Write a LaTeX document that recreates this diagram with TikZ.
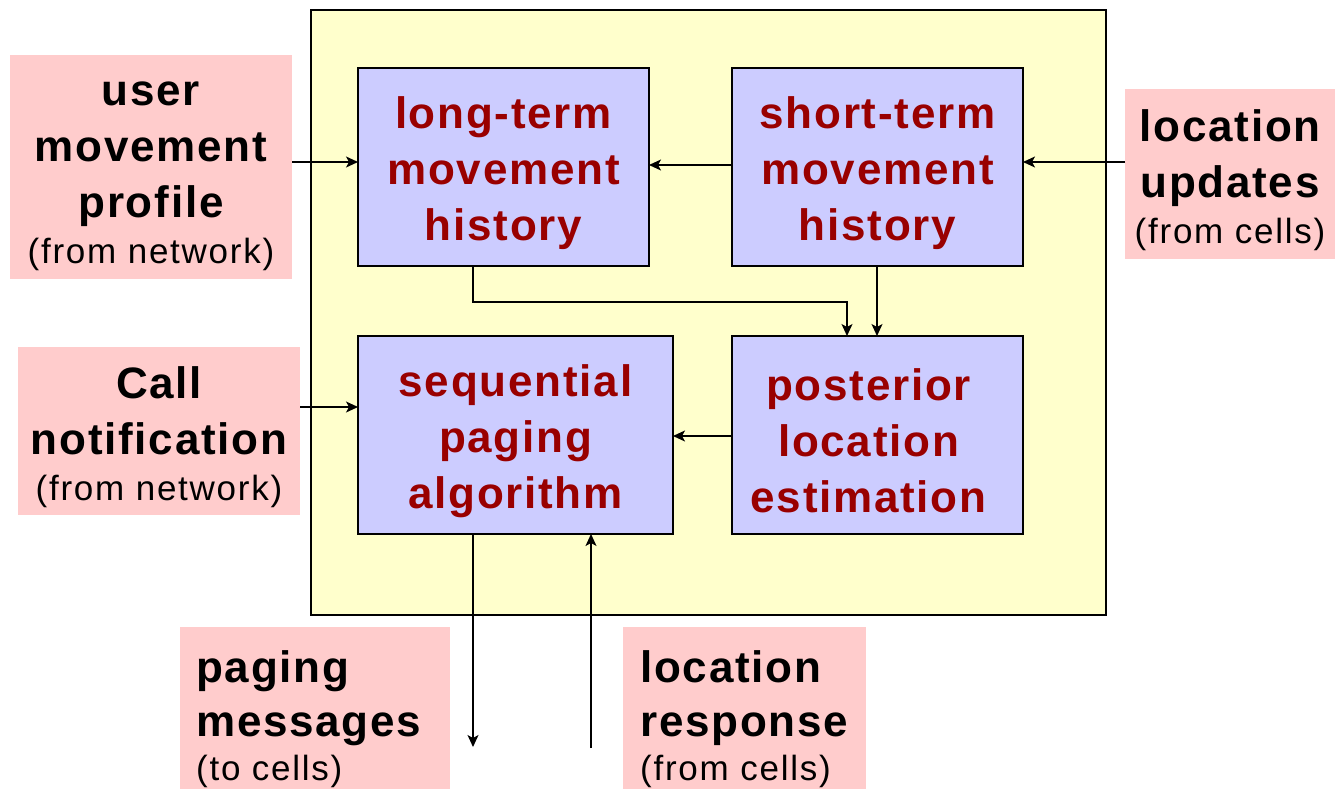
\documentclass[tikz,border=0pt]{standalone}
\usepackage{fontspec}
\setmainfont{Liberation Sans}
\newfontfamily\labelfam[LetterSpace=4]{Liberation Sans}
\newfontfamily\notefam[LetterSpace=5]{Liberation Sans}
\usetikzlibrary{arrows.meta,calc}

\definecolor{coreyellow}{HTML}{FFFFCC}
\definecolor{blockblue}{HTML}{CCCCFF}
\definecolor{inputpink}{HTML}{FFCCCC}
\definecolor{blocktext}{HTML}{990000}

\newcommand{\mainsz}{\labelfam\bfseries\fontsize{44}{56}\selectfont}
\newcommand{\notesz}{\notefam\mdseries\fontsize{35}{42}\selectfont}
% raises the first line box so the block text sits a little lower
\newcommand{\toppad}{\rule{0pt}{44pt}}

\tikzset{
  core/.style={draw=black, line width=1.5pt, fill=coreyellow, inner sep=0pt, outer sep=0pt},
  block/.style={draw=black, line width=1.5pt, fill=blockblue, inner sep=0pt, outer sep=0pt,
    minimum height=198pt, align=center, font=\mainsz, text=blocktext},
  src/.style={fill=inputpink, inner sep=0pt, outer sep=0pt},
  srctext/.style={inner sep=0pt, font=\mainsz, text=black},
  arr/.style={line width=1.2pt, -{Stealth[length=12pt,width=11pt,inset=3pt]}},
  wire/.style={line width=1.2pt}
}

\begin{document}
\begin{tikzpicture}[x=1pt, y=-1pt]
\useasboundingbox (0,0) rectangle (1335,789);

% processing unit
\node[core, minimum width=795pt, minimum height=605pt] (core) at (708.5,312.5) {};

% internal blocks
\node[block, minimum width=291pt] (lt) at (503.5,167) {\toppad long-term\\movement\\history};
\node[block, minimum width=291pt] (st) at (877.5,167) {\toppad short-term\\movement\\history};
\node[block, minimum width=315pt] (seq) at (515.5,435) {\toppad sequential\\paging\\algorithm};
\node[block, minimum width=291pt] (post) at (877.5,435) {\hspace*{-18pt}\toppad posterior\\\hspace*{-18pt}location\\\hspace*{-18pt}estimation};

% external inputs and outputs
\node[src, minimum width=282pt, minimum height=224pt] (user) at (151,167) {};
\node[src, minimum width=210pt, minimum height=170pt] (upd) at (1230,174) {};
\node[src, minimum width=282pt, minimum height=168pt] (call) at (159,431) {};
\node[src, minimum width=270pt, minimum height=186pt] (page) at (315,720) {};
\node[src, minimum width=243pt, minimum height=186pt] (resp) at (744.5,720) {};

\node[srctext, align=center] (userlbl) at (151,176)
  {user\\movement\\profile\\[-10pt]{\notesz (from network)}};
\node[srctext, align=center] (updlbl) at (1230,180.5)
  {location\\updates\\[-10pt]{\notesz (from cells)}};
\node[srctext, align=center] (calllbl) at (159,437.5)
  {Call\\notification\\[-10pt]{\notesz (from network)}};
\node[srctext, align=left, anchor=west] (pagelbl) at (196,719)
  {paging\\[-2pt]messages\\[-12pt]{\notesz (to cells)}};
\node[srctext, align=left, anchor=west] (resplbl) at (640,719)
  {location\\[-2pt]response\\[-12pt]{\notesz (from cells)}};

% row and column levels of the connectors
\coordinate (yuser) at (0,162);
\coordinate (ystlt) at (0,165);
\coordinate (ycall) at (0,407);
\coordinate (ypost) at (0,436);
\coordinate (ybus) at (0,302);
\coordinate (xlt) at (473,0);
\coordinate (xbus) at (847,0);
\coordinate (xst) at (877,0);
\coordinate (xresp) at (591,0);
\coordinate (pageout) at (473,747);
\coordinate (respin) at (591,748);

% connectors
\draw[arr] (user.east |- yuser) -- (lt.west |- yuser);
\draw[arr] (st.west |- ystlt) -- (lt.east |- ystlt);
\draw[arr] (upd.west |- yuser) -- (st.east |- yuser);
\draw[arr] (lt.south -| xlt) |- (xbus |- ybus) -- (post.north -| xbus);
\draw[arr] (st.south -| xst) -- (post.north -| xst);
\draw[arr] (post.west |- ypost) -- (seq.east |- ypost);
\draw[arr] (call.east |- ycall) -- (seq.west |- ycall);
\draw[arr] (seq.south -| xlt) -- (pageout);
\draw[arr] (respin) -- (seq.south -| xresp);
\end{tikzpicture}
\end{document}
